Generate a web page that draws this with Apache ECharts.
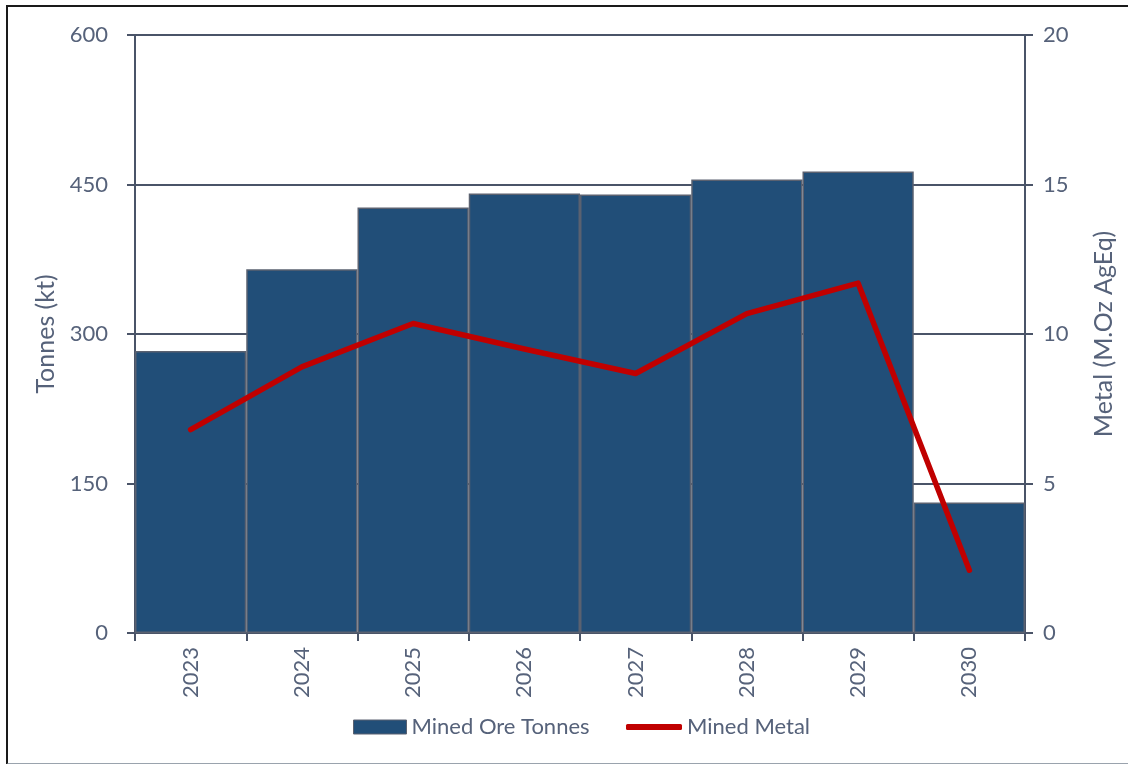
<!DOCTYPE html>
<html><head><meta charset="utf-8">
<script src="https://cdn.jsdelivr.net/npm/echarts@6/dist/echarts.min.js"></script>
<style>
html,body{margin:0;padding:0;background:#fff;}
#frame{position:absolute;left:6px;top:5px;width:1126px;height:760px;border:2px solid #1a1a1a;border-bottom-color:#9aa3ad;box-sizing:border-box;}
#c{position:absolute;left:0;top:0;width:1128px;height:764px;}
</style></head>
<body>
<div id="frame"></div>
<div id="c"></div>
<script>
const categories = ['2023','2024','2025','2026','2027','2028','2029','2030'];
const oreTonnes = [283, 365, 427, 441, 440, 455, 463, 131];
const minedMetal = [6.8, 8.9, 10.35, 9.5, 8.68, 10.68, 11.7, 2.1];
const leftTicks = [0, 150, 300, 450, 600];
const rightTicks = [0, 5, 10, 15, 20];

const textColor = '#56627a';
const axisColor = '#4a5468';
const font = 'Lato, "Open Sans", sans-serif';

const chart = echarts.init(document.getElementById('c'));
chart.setOption({
  animation: false,
  textStyle: {fontFamily: font},
  grid: {left: 135, right: 103, top: 35, bottom: 131},
  legend: [
    {
      top: 711, left: 348,
      textStyle: {color: textColor, fontSize: 22, fontFamily: font},
      data: [{name: 'Mined Ore Tonnes', icon: 'rect', itemStyle: {borderColor: '#5a6170', borderWidth: 1}}],
      itemWidth: 53, itemHeight: 14, itemGap: 6
    },
    {
      top: 711, left: 621,
      textStyle: {color: textColor, fontSize: 22, fontFamily: font},
      data: [{name: 'Mined Metal', icon: 'roundRect'}],
      itemWidth: 56, itemHeight: 6, itemGap: 6
    }
  ],
  xAxis: {
    type: 'category', data: categories,
    axisLine: {lineStyle: {color: axisColor, width: 2}},
    axisTick: {show: true, length: 8, lineStyle: {color: axisColor, width: 2}},
    axisLabel: {rotate: 90, color: textColor, fontSize: 22, margin: 14, fontFamily: font}
  },
  yAxis: [
    {
      type: 'value', min: 0, max: 600, interval: 150,
      name: 'Tonnes (kt)', nameLocation: 'middle', nameGap: 68, nameRotate: 90,
      nameTextStyle: {color: textColor, fontSize: 25, fontFamily: font},
      axisLine: {show: true, lineStyle: {color: axisColor, width: 2}},
      axisTick: {show: true, length: 8, lineStyle: {color: axisColor, width: 2}},
      axisLabel: {color: textColor, fontSize: 22, margin: 27, fontFamily: font,
        formatter: v => leftTicks.includes(v) ? String(v) : ''},
      splitLine: {show: true, lineStyle: {color: axisColor, width: 2}}
    },
    {
      type: 'value', min: 0, max: 20, interval: 5, position: 'right',
      name: 'Metal (M.Oz AgEq)', nameLocation: 'middle', nameGap: 66, nameRotate: 90,
      nameTextStyle: {color: textColor, fontSize: 25, fontFamily: font},
      axisLine: {show: true, lineStyle: {color: axisColor, width: 2}},
      axisTick: {show: true, length: 8, lineStyle: {color: axisColor, width: 2}},
      axisLabel: {color: textColor, fontSize: 22, margin: 18, fontFamily: font,
        formatter: v => rightTicks.includes(v) ? String(v) : ''},
      splitLine: {show: false}
    }
  ],
  series: [
    {
      name: 'Mined Ore Tonnes', type: 'bar', data: oreTonnes,
      barCategoryGap: '0%',
      itemStyle: {color: '#214e78', borderColor: '#5a6170', borderWidth: 1.5},
      z: 3
    },
    {
      name: 'Mined Metal', type: 'line', yAxisIndex: 1, data: minedMetal,
      symbol: 'none', lineStyle: {color: '#c00000', width: 5.5, cap: 'round', join: 'round'},
      itemStyle: {color: '#c00000'},
      z: 5
    }
  ]
});
</script>
</body></html>
